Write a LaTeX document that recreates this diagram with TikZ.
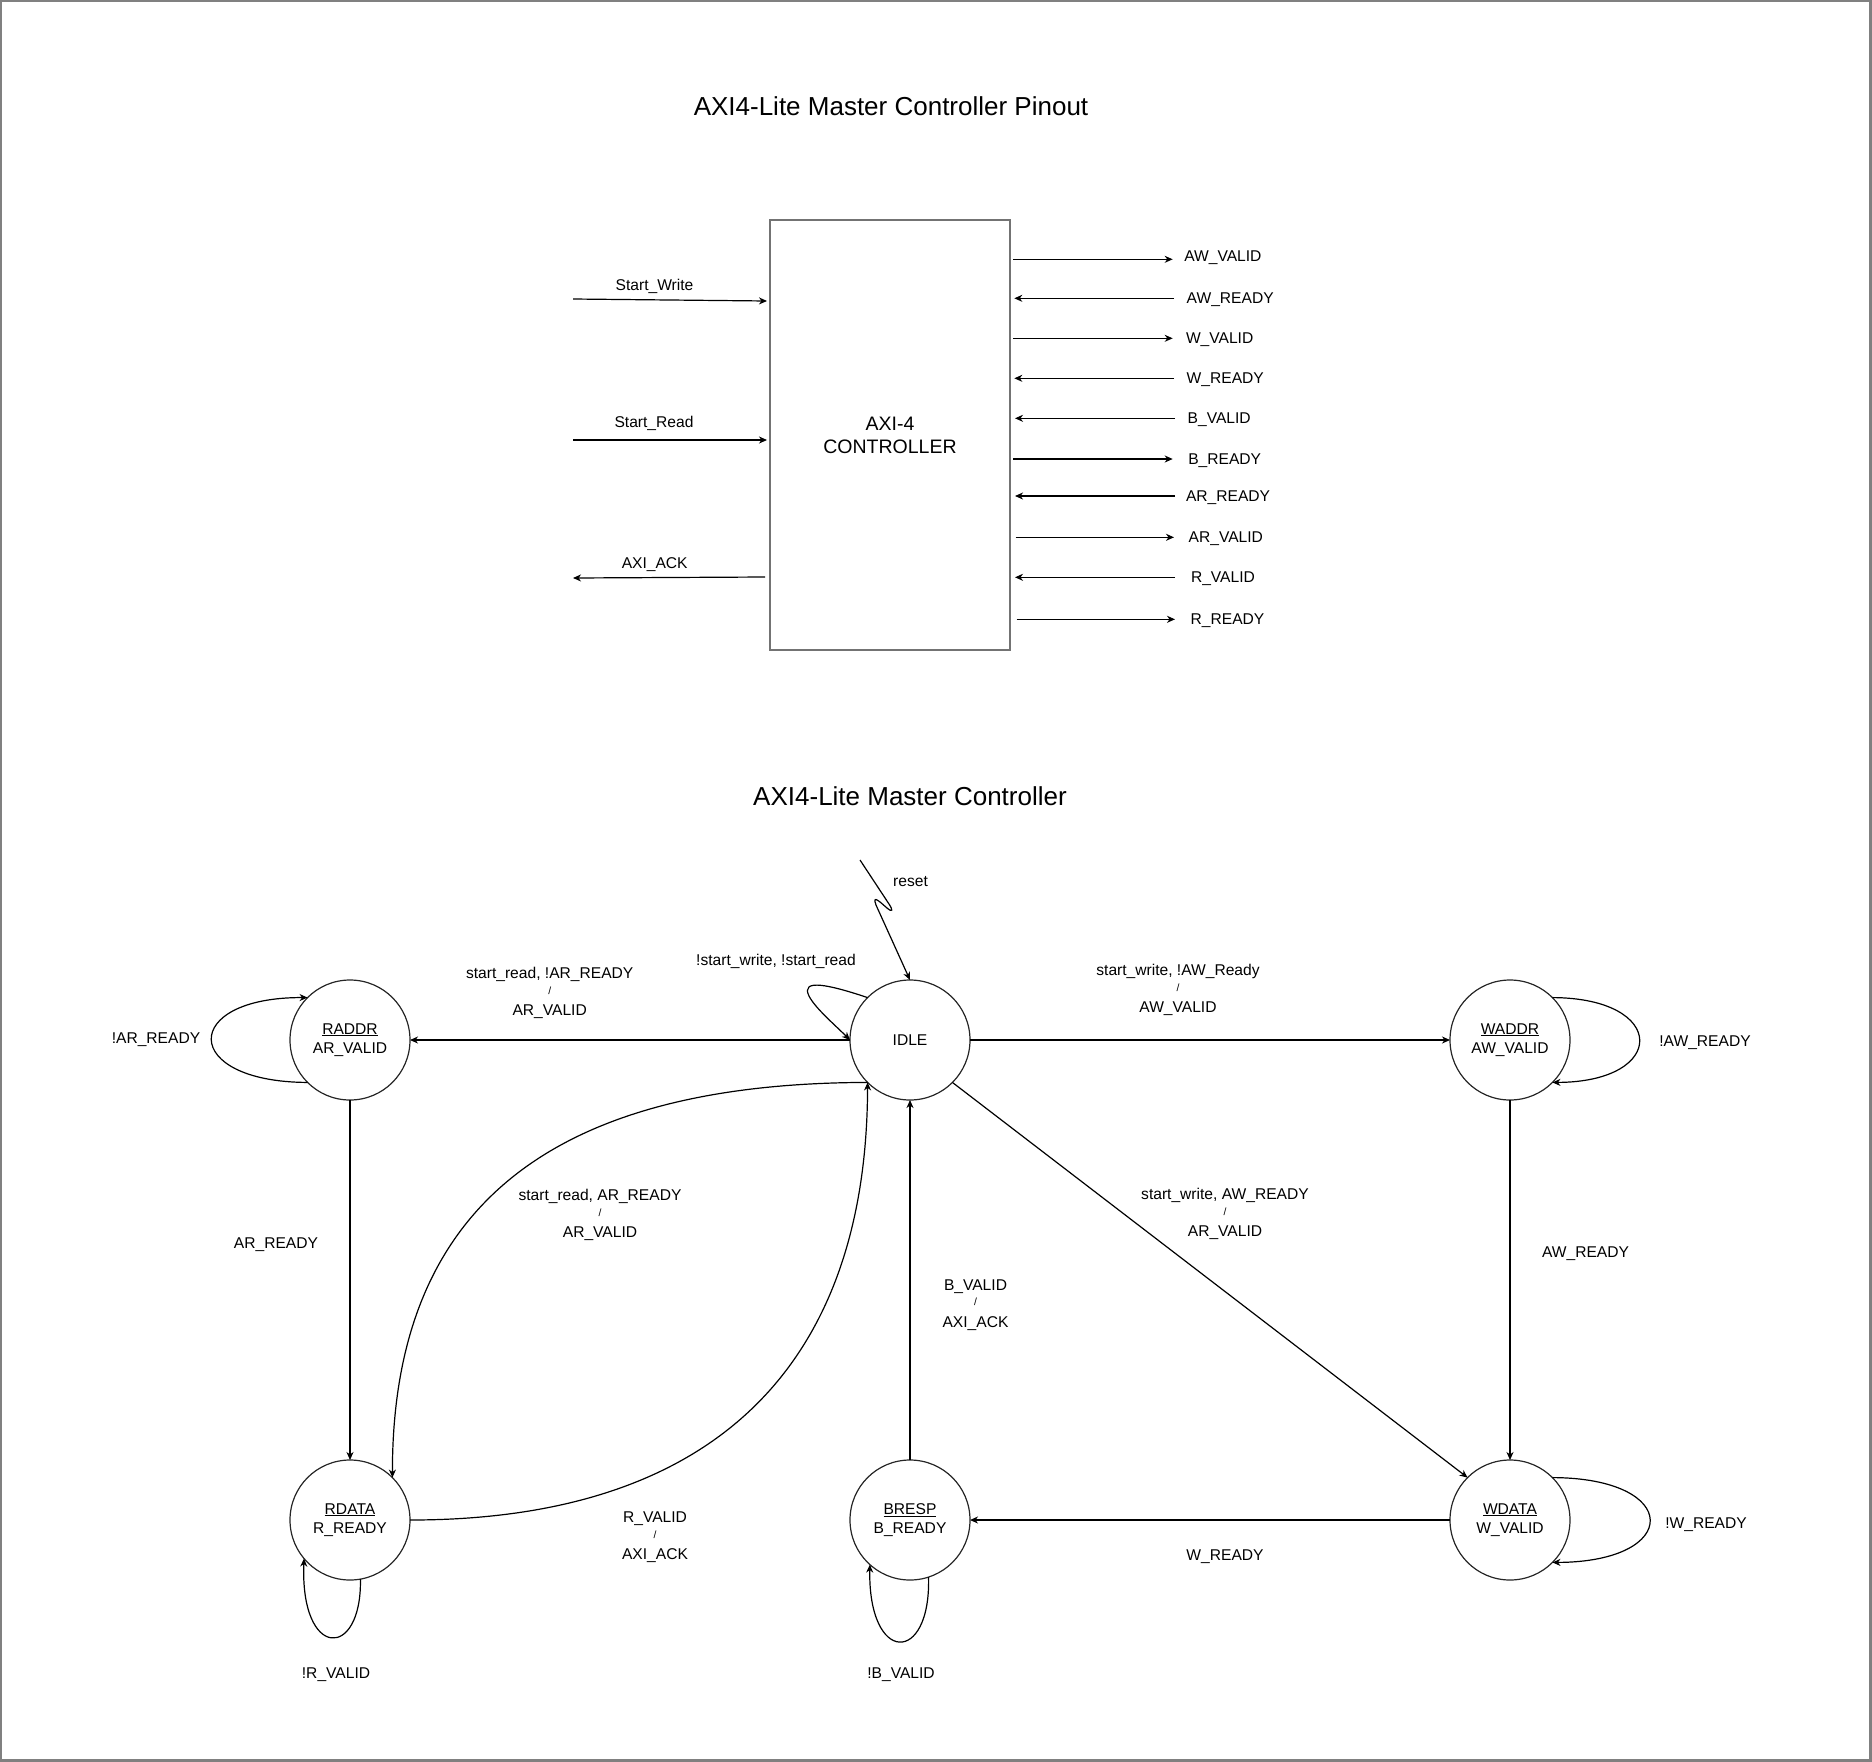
\documentclass[tikz,border=0pt]{standalone}
\usepackage{fontspec}
\setmainfont{Liberation Sans}
\usetikzlibrary{arrows.meta}

\tikzset{
  txt/.style={font=\fontsize{15.6}{18.7}\selectfont, inner sep=0pt, outer sep=0pt},
  small/.style={font=\fontsize{10.4}{12}\selectfont, inner sep=0pt, outer sep=0pt},
  ttl/.style={font=\fontsize{26}{30}\selectfont, inner sep=0pt, outer sep=0pt},
  fsm/.style={circle, draw=black!85, line width=1.2pt, minimum size=120pt,
              inner sep=0pt, outer sep=0pt, align=center,
              font=\fontsize{15.6}{19.3}\selectfont},
  arr/.style={-{Stealth[length=8pt,width=7pt,inset=2.5pt]}},
  wire/.style={line width=1.2pt, arr},
}

% single centred label, y = middle of the capitals
\newcommand{\lbl}[4]{\node[txt, anchor=base] (#1) at (#2,#3+5.6) {#4};}
% condition / action label on three lines
\newcommand{\condlabel}[5]{%
  \node[txt, anchor=base] (#1a) at (#2,#3+5.6) {#4};
  \node[small, anchor=base] (#1b) at (#2,#3+21) {/};
  \node[txt, anchor=base] (#1c) at (#2,#3+42.6) {#5};}

\begin{document}
\begin{tikzpicture}[x=1pt,y=-1pt]
\useasboundingbox (0,0) rectangle (1872,1762);
\draw[black!50, line width=3pt] (0,0) rectangle (1870.5,1760.5);

% ---------------- pinout ----------------
\node[ttl, anchor=base] (title1) at (891,115.3) {AXI4-Lite Master Controller Pinout};

\node[draw=black!55, line width=1.6pt, minimum width=240pt, minimum height=430pt,
      inner sep=0pt, outer sep=0pt, align=center,
      font=\fontsize{19.5}{23}\selectfont] (ctrl) at (890,435) {AXI-4\\CONTROLLER};

% host side
\coordinate (sw0) at (573,299);   \coordinate (sw1) at (767,301);
\coordinate (sr0) at (573,440);   \coordinate (sr1) at (767,440);
\coordinate (ack0) at (765,577);  \coordinate (ack1) at (573,578);
\draw[wire] (sw0) -- (sw1);
\draw[wire] (sr0) -- (sr1);
\draw[wire] (ack0) -- (ack1);
\lbl{lsw}{654.5}{285}{Start\_Write}
\lbl{lsr}{654}{421.7}{Start\_Read}
\lbl{lack}{654.7}{563}{AXI\_ACK}

% bus side: outputs
\foreach \nm/\ay/\xn/\xf/\lx/\ly/\tx in {
    awv/259.3/1013.3/1172.7/1184.3/255.5/AW\_VALID,
    wv/338.3/1013.3/1172.7/1186/338/W\_VALID,
    brd/459/1013.3/1172.7/1188.3/459/B\_READY,
    arv/537.3/1015.7/1174/1188.7/537/AR\_VALID,
    rrd/619.3/1016.7/1175/1190.7/619/R\_READY}{
  \coordinate (\nm-n) at (\xn,\ay);
  \coordinate (\nm-f) at (\xf,\ay);
  \draw[wire] (\nm-n) -- (\nm-f);
  \node[txt, anchor=base west] (\nm-l) at (\lx,\ly+5.6) {\tx};
}
% bus side: inputs
\foreach \nm/\ay/\xn/\xf/\lx/\ly/\tx in {
    awr/298.3/1014.3/1174/1186.7/298.3/AW\_READY,
    wr/378.3/1014.3/1174/1186.7/378/W\_READY,
    bv/418.3/1015/1175/1187.7/418/B\_VALID,
    arr/496/1015/1175/1186/496/AR\_READY,
    rv/577.3/1015/1175/1191/577/R\_VALID}{
  \coordinate (\nm-n) at (\xn,\ay);
  \coordinate (\nm-f) at (\xf,\ay);
  \draw[wire] (\nm-f) -- (\nm-n);
  \node[txt, anchor=base west] (\nm-l) at (\lx,\ly+5.6) {\tx};
}

% ---------------- state machine ----------------
\node[ttl, anchor=base] (title2) at (910,805.7) {AXI4-Lite Master Controller};

\node[fsm] (idle)  at (910,1040)  {IDLE};
\node[fsm] (raddr) at (350,1040)  {\underline{RADDR}\\AR\_VALID};
\node[fsm] (waddr) at (1510,1040) {\underline{WADDR}\\AW\_VALID};
\node[fsm] (rdata) at (350,1520)  {\underline{RDATA}\\R\_READY};
\node[fsm] (bresp) at (910,1520)  {\underline{BRESP}\\B\_READY};
\node[fsm] (wdata) at (1510,1520) {\underline{WDATA}\\W\_VALID};

% reset entry
\coordinate (rst) at (860,860);
\draw[wire] (rst) -- (889,904) .. controls (893,910) and (893,913) .. (887,908)
      .. controls (880,902) and (872,894) .. (876,905) -- (idle.north);
\node[txt, anchor=base] (rstl) at (910.5,886) {reset};

% transitions
\draw[wire] (idle.west) -- (raddr.east);
\draw[wire] (idle.east) -- (waddr.west);
\draw[wire] (raddr.south) -- (rdata.north);
\draw[wire] (waddr.south) -- (wdata.north);
\draw[wire] (wdata.west) -- (bresp.east);
\draw[wire] (bresp.north) -- (idle.south);
\draw[wire] (idle.-45) -- (wdata.135);
\draw[wire] (idle.225) .. controls (560,1083) and (392,1200) .. (rdata.45);
\draw[wire] (rdata.east) .. controls (730,1520) and (867,1350) .. (idle.225);

% self loops
\draw[wire] (idle.135) .. controls (830,985) and (800,978) .. (809,996)
      .. controls (815,1008) and (835,1025) .. (idle.west);
\draw[wire] (raddr.225) .. controls (180,1082) and (180,997) .. (raddr.135);
\draw[wire] (waddr.45) .. controls (1668,998) and (1668,1082) .. (waddr.-45);
\draw[wire] (wdata.45) .. controls (1682,1478) and (1682,1562) .. (wdata.-45);
\draw[wire] (rdata.-80) .. controls (362,1660) and (300,1660) .. (rdata.220);
\draw[wire] (bresp.-72) .. controls (931,1665) and (868,1665) .. (bresp.228);

% labels
\condlabel{c1}{549.7}{973}{start\_read, !AR\_READY}{AR\_VALID}
\condlabel{c2}{1178}{970}{start\_write, !AW\_Ready}{AW\_VALID}
\condlabel{c3}{600}{1195}{start\_read, AR\_READY}{AR\_VALID}
\condlabel{c4}{1225}{1194}{start\_write, AW\_READY}{AR\_VALID}
\condlabel{c5}{975.5}{1284.6}{B\_VALID}{AXI\_ACK}
\condlabel{c6}{655}{1517}{R\_VALID}{AXI\_ACK}

\lbl{s1}{776}{960}{!start\_write, !start\_read}
\lbl{s3}{156}{1038}{!AR\_READY}
\lbl{s4}{1705}{1041}{!AW\_READY}
\lbl{s5}{276}{1243}{AR\_READY}
\lbl{s6}{1585.5}{1252}{AW\_READY}
\lbl{s7}{1225}{1555}{W\_READY}
\lbl{s8}{1706}{1523}{!W\_READY}
\lbl{s9}{336}{1673}{!R\_VALID}
\lbl{s10}{901}{1673}{!B\_VALID}
\end{tikzpicture}
\end{document}
